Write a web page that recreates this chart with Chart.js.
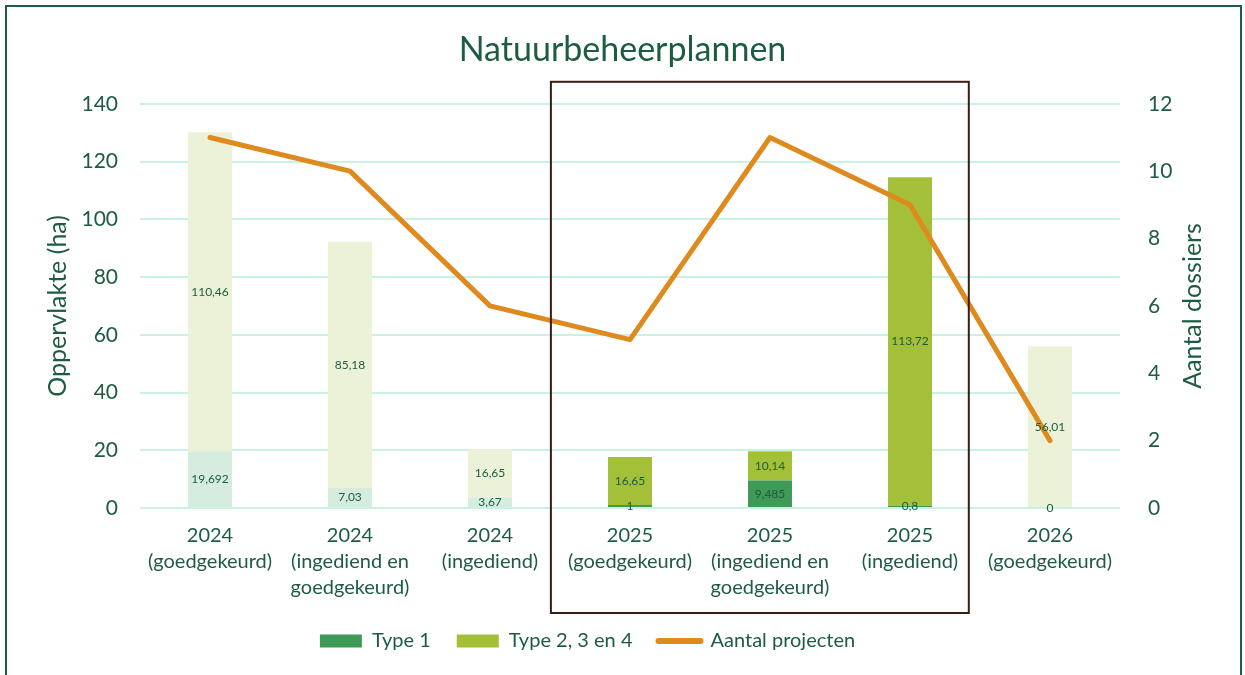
<!DOCTYPE html>
<html>
<head>
<meta charset="utf-8">
<script src="https://cdn.jsdelivr.net/npm/chart.js@4"></script>
<style>
  html, body { margin: 0; padding: 0; background: #fff; }
  #wrap { position: relative; width: 1245px; height: 675px; overflow: hidden; }
  #chart { position: absolute; left: 0; top: 0; }
  #frame {
    position: absolute; left: 5px; top: 5px; width: 1233px; height: 700px;
    border: 2px solid #1f5c44; pointer-events: none;
  }
</style>
</head>
<body>
<div id="wrap">
  <canvas id="chart" width="1245" height="675"></canvas>
  <div id="frame"></div>
</div>
<script>
const categories = [
  ["2024", "(goedgekeurd)"],
  ["2024", "(ingediend en", "goedgekeurd)"],
  ["2024", "(ingediend)"],
  ["2025", "(goedgekeurd)"],
  ["2025", "(ingediend en", "goedgekeurd)"],
  ["2025", "(ingediend)"],
  ["2026", "(goedgekeurd)"]
];
const type1 = [19.692, 7.03, 3.67, 1, 9.485, 0.8, 0];
const type234 = [110.46, 85.18, 16.65, 16.65, 10.14, 113.72, 56.01];
const projecten = [11, 10, 6, 5, 11, 9, 2];
const leftTicks = [0, 20, 40, 60, 80, 100, 120, 140];
const rightTicks = [0, 2, 4, 6, 8, 10, 12];

const TEXT = "#1d5c40";
const GRID = "#c9f2e3";
const ORANGE = "#de8a1e";
const TYPE1 = "#3f9a57";
const TYPE2 = "#a3c038";
const TYPE1_PALE = "#d5ecdf";
const TYPE2_PALE = "#ecf2d7";
const FONT = "Lato, 'Open Sans', sans-serif";

// 2025 bars are highlighted, others pale
const highlighted = [false, false, false, true, true, true, false];

const barLabels = {
  id: "barLabels",
  afterDatasetsDraw(chart) {
    const ctx = chart.ctx;
    ctx.save();
    ctx.font = "12px " + FONT;
    ctx.fillStyle = TEXT;
    ctx.textAlign = "center";
    ctx.textBaseline = "middle";
    chart.data.datasets.forEach((ds, i) => {
      if (ds.type !== "bar") return;
      chart.getDatasetMeta(i).data.forEach((bar, j) => {
        ctx.fillText(String(ds.data[j]).replace(".", ","), bar.x, (bar.y + bar.base) / 2);
      });
    });
    ctx.restore();
  }
};

// box round the 2025 columns + right axis title (reads bottom-up like the left one)
const extras = {
  id: "extras",
  afterLayout(chart) {
    // legend sits a bit left of centre in the original
    chart.legend.left -= 35;
    chart.legend.right -= 35;
  },
  afterDraw(chart) {
    const x = chart.scales.x;
    const step = x.getPixelForValue(1) - x.getPixelForValue(0);
    const a = chart.chartArea;
    const left = x.getPixelForValue(3) - 0.565 * step;
    const right = x.getPixelForValue(5) + 0.42 * step;
    const ctx = chart.ctx;
    ctx.save();
    ctx.strokeStyle = "#3a1c17";
    ctx.lineWidth = 2;
    ctx.strokeRect(left, a.top - 22, right - left, a.bottom - a.top + 127);

    const y1 = chart.scales.y1;
    ctx.translate(y1.right - 22, (a.top + a.bottom) / 2);
    ctx.rotate(-Math.PI / 2);
    ctx.font = "25px " + FONT;
    ctx.fillStyle = TEXT;
    ctx.textAlign = "center";
    ctx.textBaseline = "middle";
    ctx.fillText("Aantal dossiers", 0, 0);
    ctx.restore();
  }
};

new Chart(document.getElementById("chart"), {
  data: {
    labels: categories,
    datasets: [
      {
        type: "line",
        label: "Aantal projecten",
        data: projecten,
        yAxisID: "y1",
        borderColor: ORANGE,
        backgroundColor: ORANGE,
        borderWidth: 5,
        borderJoinStyle: "round",
        borderCapStyle: "round",
        pointRadius: 0,
        tension: 0,
        order: 0
      },
      {
        type: "bar",
        label: "Type 1",
        data: type1,
        yAxisID: "y",
        backgroundColor: highlighted.map(h => h ? TYPE1 : TYPE1_PALE),
        barPercentage: 0.314,
        categoryPercentage: 1,
        order: 1
      },
      {
        type: "bar",
        label: "Type 2, 3 en 4",
        data: type234,
        yAxisID: "y",
        backgroundColor: highlighted.map(h => h ? TYPE2 : TYPE2_PALE),
        barPercentage: 0.314,
        categoryPercentage: 1,
        order: 1
      }
    ]
  },
  options: {
    responsive: false,
    animation: false,
    devicePixelRatio: 1,
    layout: { padding: { left: 30, right: 30, top: 0, bottom: 14 } },
    scales: {
      x: {
        stacked: true,
        grid: { display: false },
        border: { display: false },
        ticks: { color: TEXT, font: { family: FONT, size: 20, lineHeight: 1.3 }, padding: 7, maxRotation: 0, autoSkip: false },
        afterFit: s => { s.height = 97; }
      },
      y: {
        stacked: true,
        position: "left",
        min: 0,
        max: 140,
        afterBuildTicks: s => { s.ticks = leftTicks.map(v => ({ value: v })); },
        grid: { color: GRID, lineWidth: 2, drawTicks: false },
        border: { display: false },
        ticks: { color: TEXT, font: { family: FONT, size: 21 }, padding: 22 },
        title: { display: true, text: "Oppervlakte (ha)", color: TEXT, font: { family: FONT, size: 25 }, padding: { top: 13, bottom: 0 } },
        afterFit: s => { s.width = 110; }
      },
      y1: {
        position: "right",
        min: 0,
        max: 12,
        afterBuildTicks: s => { s.ticks = rightTicks.map(v => ({ value: v })); },
        grid: { display: false },
        border: { display: false },
        ticks: { color: TEXT, font: { family: FONT, size: 21 }, padding: 20 },
        afterFit: s => { s.width = 95; }
      }
    },
    plugins: {
      title: {
        display: true,
        text: "Natuurbeheerplannen",
        color: TEXT,
        font: { family: FONT, size: 34, weight: "normal" },
        padding: { top: 30, bottom: 33 }
      },
      tooltip: { enabled: false },
      legend: {
        position: "bottom",
        labels: {
          color: TEXT,
          font: { family: FONT, size: 20 },
          usePointStyle: true,
          pointStyleWidth: 42,
          boxHeight: 13,
          padding: 26,
          generateLabels: () => [
            { text: "Type 1", fillStyle: TYPE1, strokeStyle: TYPE1, lineWidth: 0, pointStyle: "rect", fontColor: TEXT, hidden: false, datasetIndex: 1 },
            { text: "Type 2, 3 en 4", fillStyle: TYPE2, strokeStyle: TYPE2, lineWidth: 0, pointStyle: "rect", fontColor: TEXT, hidden: false, datasetIndex: 2 },
            { text: "Aantal projecten", fillStyle: ORANGE, strokeStyle: ORANGE, lineWidth: 6, lineCap: "round", pointStyle: "line", fontColor: TEXT, hidden: false, datasetIndex: 0 }
          ]
        }
      }
    }
  },
  plugins: [barLabels, extras]
});
</script>
</body>
</html>
